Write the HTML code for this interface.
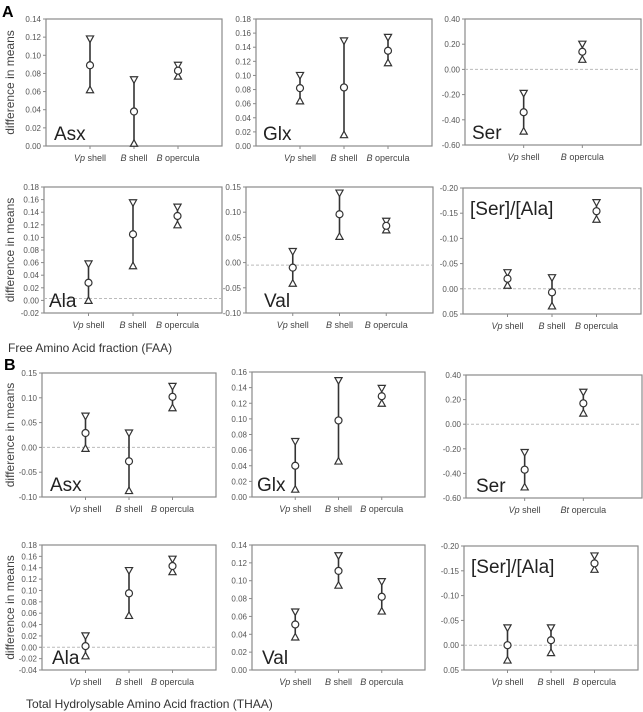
<!DOCTYPE html>
<html><head><meta charset="utf-8">
<style>
html,body{margin:0;padding:0;background:#fff;}
svg{display:block;font-family:"Liberation Sans",Arial,sans-serif;}
</style></head>
<body>
<svg id="fig" width="643" height="712" viewBox="0 0 643 712">
<text x="2" y="17" font-size="16" font-weight="bold">A</text>
<text x="4" y="370" font-size="16" font-weight="bold">B</text>
<text x="8" y="352" font-size="12" fill="#333">Free Amino Acid fraction (FAA)</text>
<text x="26" y="708" font-size="12" fill="#333">Total Hydrolysable Amino Acid fraction (THAA)</text>
</svg>
<script>
// ---- data (hi = upper limit, mean, lo = lower limit) ----
const cats3 = ["Vp shell","B shell","B opercula"];
const catsSer = ["Vp shell","B opercula"];
const catsSerB = ["Vp shell","Bt opercula"];

const asxA_hi = [0.118, 0.073, 0.089];
const asxA_mean = [0.089, 0.038, 0.083];
const asxA_lo = [0.062, 0.003, 0.077];
const asxA_ticks = [0,0.02,0.04,0.06,0.08,0.10,0.12,0.14];

const glxA_hi = [0.100, 0.149, 0.154];
const glxA_mean = [0.082, 0.083, 0.135];
const glxA_lo = [0.064, 0.016, 0.118];
const glxA_ticks = [0,0.02,0.04,0.06,0.08,0.10,0.12,0.14,0.16,0.18];

const serA_hi = [-0.19, 0.20];
const serA_mean = [-0.34, 0.14];
const serA_lo = [-0.49, 0.08];
const serA_ticks = [-0.6,-0.4,-0.2,0,0.2,0.4];

const alaA_hi = [0.058, 0.155, 0.148];
const alaA_mean = [0.028, 0.105, 0.134];
const alaA_lo = [0.000, 0.055, 0.120];
const alaA_ticks = [-0.02,0,0.02,0.04,0.06,0.08,0.10,0.12,0.14,0.16,0.18];

const valA_hi = [0.022, 0.138, 0.082];
const valA_mean = [-0.010, 0.096, 0.073];
const valA_lo = [-0.041, 0.052, 0.065];
const valA_ticks = [-0.10,-0.05,0,0.05,0.10,0.15];

const ratioA_hi = [-0.032, -0.022, -0.171];
const ratioA_mean = [-0.020, 0.007, -0.154];
const ratioA_lo = [-0.007, 0.034, -0.138];
const ratioA_ticks = [0.05,0,-0.05,-0.10,-0.15,-0.20];

const asxB_hi = [0.063, 0.029, 0.123];
const asxB_mean = [0.029, -0.028, 0.102];
const asxB_lo = [-0.002, -0.087, 0.080];
const asxB_ticks = [-0.10,-0.05,0,0.05,0.10,0.15];

const glxB_hi = [0.071, 0.149, 0.139];
const glxB_mean = [0.040, 0.098, 0.129];
const glxB_lo = [0.010, 0.046, 0.120];
const glxB_ticks = [0,0.02,0.04,0.06,0.08,0.10,0.12,0.14,0.16];

const serB_hi = [-0.23, 0.26];
const serB_mean = [-0.37, 0.17];
const serB_lo = [-0.51, 0.09];
const serB_ticks = [-0.6,-0.4,-0.2,0,0.2,0.4];

const alaB_hi = [0.020, 0.135, 0.155];
const alaB_mean = [0.002, 0.095, 0.143];
const alaB_lo = [-0.015, 0.056, 0.133];
const alaB_ticks = [-0.04,-0.02,0,0.02,0.04,0.06,0.08,0.10,0.12,0.14,0.16,0.18];

const valB_hi = [0.065, 0.128, 0.099];
const valB_mean = [0.051, 0.111, 0.082];
const valB_lo = [0.037, 0.095, 0.066];
const valB_ticks = [0,0.02,0.04,0.06,0.08,0.10,0.12,0.14];

const ratioB_hi = [-0.035, -0.035, -0.180];
const ratioB_mean = [0.000, -0.010, -0.165];
const ratioB_lo = [0.030, 0.015, -0.153];
const ratioB_ticks = [0.05,0,-0.05,-0.10,-0.15,-0.20];

const NS = "http://www.w3.org/2000/svg";
const svg = document.getElementById("fig");
function mk(tag, attrs, parent){
  const e = document.createElementNS(NS, tag);
  for (const k in attrs) e.setAttribute(k, attrs[k]);
  (parent||svg).appendChild(e);
  return e;
}
function fmt(v){ return v.toFixed(2).replace("-0.00","0.00"); }

function panel(cfg){
  const g = mk("g", {});
  
  
  const [x0,y0,x1,y1] = cfg.box;
  const t = cfg.ticks;
  const top = cfg.reversed ? Math.min(...t) : Math.max(...t);
  const bot = cfg.reversed ? Math.max(...t) : Math.min(...t);
  const ys = v => y1 - (v - bot) / (top - bot) * (y1 - y0);
  const n = cfg.cats.length;
  const xs = i => x0 + (x1 - x0) * (i + 1) / (n + 1);
  // box
  const r = mk("rect", {x:x0, y:y0, width:x1-x0, height:y1-y0, fill:"none", stroke:"#8a8a8a", "stroke-width":1.2}, g);
  
  
  // zero line
  if (cfg.zero !== undefined){
    const zl = mk("line", {x1:x0, x2:x1, y1:ys(cfg.zero), y2:ys(cfg.zero), stroke:"#bbb", "stroke-width":1, "stroke-dasharray":"3,2"}, g);
    
    
  }
  // y ticks
  t.forEach(v => {
    const y = ys(v);
    mk("line", {x1:x0-3, x2:x0, y1:y, y2:y, stroke:"#8a8a8a"}, g);
    const tx = mk("text", {x:x0-5, y:y+3, "font-size":8, fill:"#555", "text-anchor":"end"}, g);
    tx.textContent = fmt(v);
    
    
  });
  // categories
  cfg.cats.forEach((c, i) => {
    const x = xs(i);
    mk("line", {x1:x, x2:x, y1:y1, y2:y1+3, stroke:"#8a8a8a"}, g);
    const tx = mk("text", {x:x, y:y1+15, "font-size":9, fill:"#444", "text-anchor":"middle"}, g);
    const parts = c.split(" ");
    const it = mk("tspan", {"font-style":"italic"}, tx); it.textContent = parts[0];
    const rest = mk("tspan", {}, tx); rest.textContent = " " + parts.slice(1).join(" ");
    
    
  });
  // marks
  cfg.cats.forEach((c, i) => {
    const x = xs(i);
    const yh = ys(cfg.hi[i]), ym = ys(cfg.mean[i]), yl = ys(cfg.lo[i]);
    const eb = mk("line", {x1:x, x2:x, y1:yh, y2:yl, stroke:"#333", "stroke-width":1.6}, g);
    
    
    const tu = mk("path", {d:`M${x-3.6},${yh-3} L${x+3.6},${yh-3} L${x},${yh+3.5} Z`, fill:"#fff", stroke:"#333", "stroke-width":1.2}, g);
    
    
    const tl = mk("path", {d:`M${x-3.6},${yl+3} L${x+3.6},${yl+3} L${x},${yl-3.5} Z`, fill:"#fff", stroke:"#333", "stroke-width":1.2}, g);
    
    
    const ci = mk("circle", {cx:x, cy:ym, r:3.5, fill:"#fff", stroke:"#333", "stroke-width":1.2}, g);
    
    
  });
  // name
  const nm = mk("text", {x:x0 + cfg.nameDx, y: cfg.nameTop ? y0 + 27 : y1 - 6, "font-size":19, fill:"#222"}, g);
  nm.textContent = cfg.name;
  
  
  // y title
  if (cfg.ytitle){
    const cy = (y0 + y1) / 2;
    const yt = mk("text", {x:14, y:cy, "font-size":12, fill:"#444", "text-anchor":"middle", transform:`rotate(-90 14 ${cy})`}, g);
    yt.textContent = "difference in means";
    
    
  }
}

panel({id:"asx-faa", box:[46,19,222,146], ticks:asxA_ticks, cats:cats3, hi:asxA_hi, mean:asxA_mean, lo:asxA_lo, name:"Asx", nameDx:8, ytitle:true});
panel({id:"glx-faa", box:[256,19,432,146], ticks:glxA_ticks, cats:cats3, hi:glxA_hi, mean:glxA_mean, lo:glxA_lo, name:"Glx", nameDx:7});
panel({id:"ser-faa", box:[465,19,641,145], ticks:serA_ticks, cats:catsSer, hi:serA_hi, mean:serA_mean, lo:serA_lo, name:"Ser", nameDx:7, zero:0});
panel({id:"ala-faa", box:[44,187,222,313], ticks:alaA_ticks, cats:cats3, hi:alaA_hi, mean:alaA_mean, lo:alaA_lo, name:"Ala", nameDx:5, zero:0.003, ytitle:true});
panel({id:"val-faa", box:[246,187,433,313], ticks:valA_ticks, cats:cats3, hi:valA_hi, mean:valA_mean, lo:valA_lo, name:"Val", nameDx:18, zero:-0.005});
panel({id:"ratio-faa", box:[463,188,641,314], ticks:ratioA_ticks, cats:cats3, hi:ratioA_hi, mean:ratioA_mean, lo:ratioA_lo, name:"[Ser]/[Ala]", nameDx:7, nameTop:true, reversed:true, zero:0});
panel({id:"asx-thaa", box:[42,373,216,497], ticks:asxB_ticks, cats:cats3, hi:asxB_hi, mean:asxB_mean, lo:asxB_lo, name:"Asx", nameDx:8, zero:0, ytitle:true});
panel({id:"glx-thaa", box:[252,372,425,497], ticks:glxB_ticks, cats:cats3, hi:glxB_hi, mean:glxB_mean, lo:glxB_lo, name:"Glx", nameDx:5});
panel({id:"ser-thaa", box:[466,375,642,498], ticks:serB_ticks, cats:catsSerB, hi:serB_hi, mean:serB_mean, lo:serB_lo, name:"Ser", nameDx:10, zero:0});
panel({id:"ala-thaa", box:[42,545,216,670], ticks:alaB_ticks, cats:cats3, hi:alaB_hi, mean:alaB_mean, lo:alaB_lo, name:"Ala", nameDx:10, zero:0, ytitle:true});
panel({id:"val-thaa", box:[252,545,425,670], ticks:valB_ticks, cats:cats3, hi:valB_hi, mean:valB_mean, lo:valB_lo, name:"Val", nameDx:10});
panel({id:"ratio-thaa", box:[464,546,638,670], ticks:ratioB_ticks, cats:cats3, hi:ratioB_hi, mean:ratioB_mean, lo:ratioB_lo, name:"[Ser]/[Ala]", nameDx:7, nameTop:true, reversed:true, zero:0});
</script>
</body></html>
